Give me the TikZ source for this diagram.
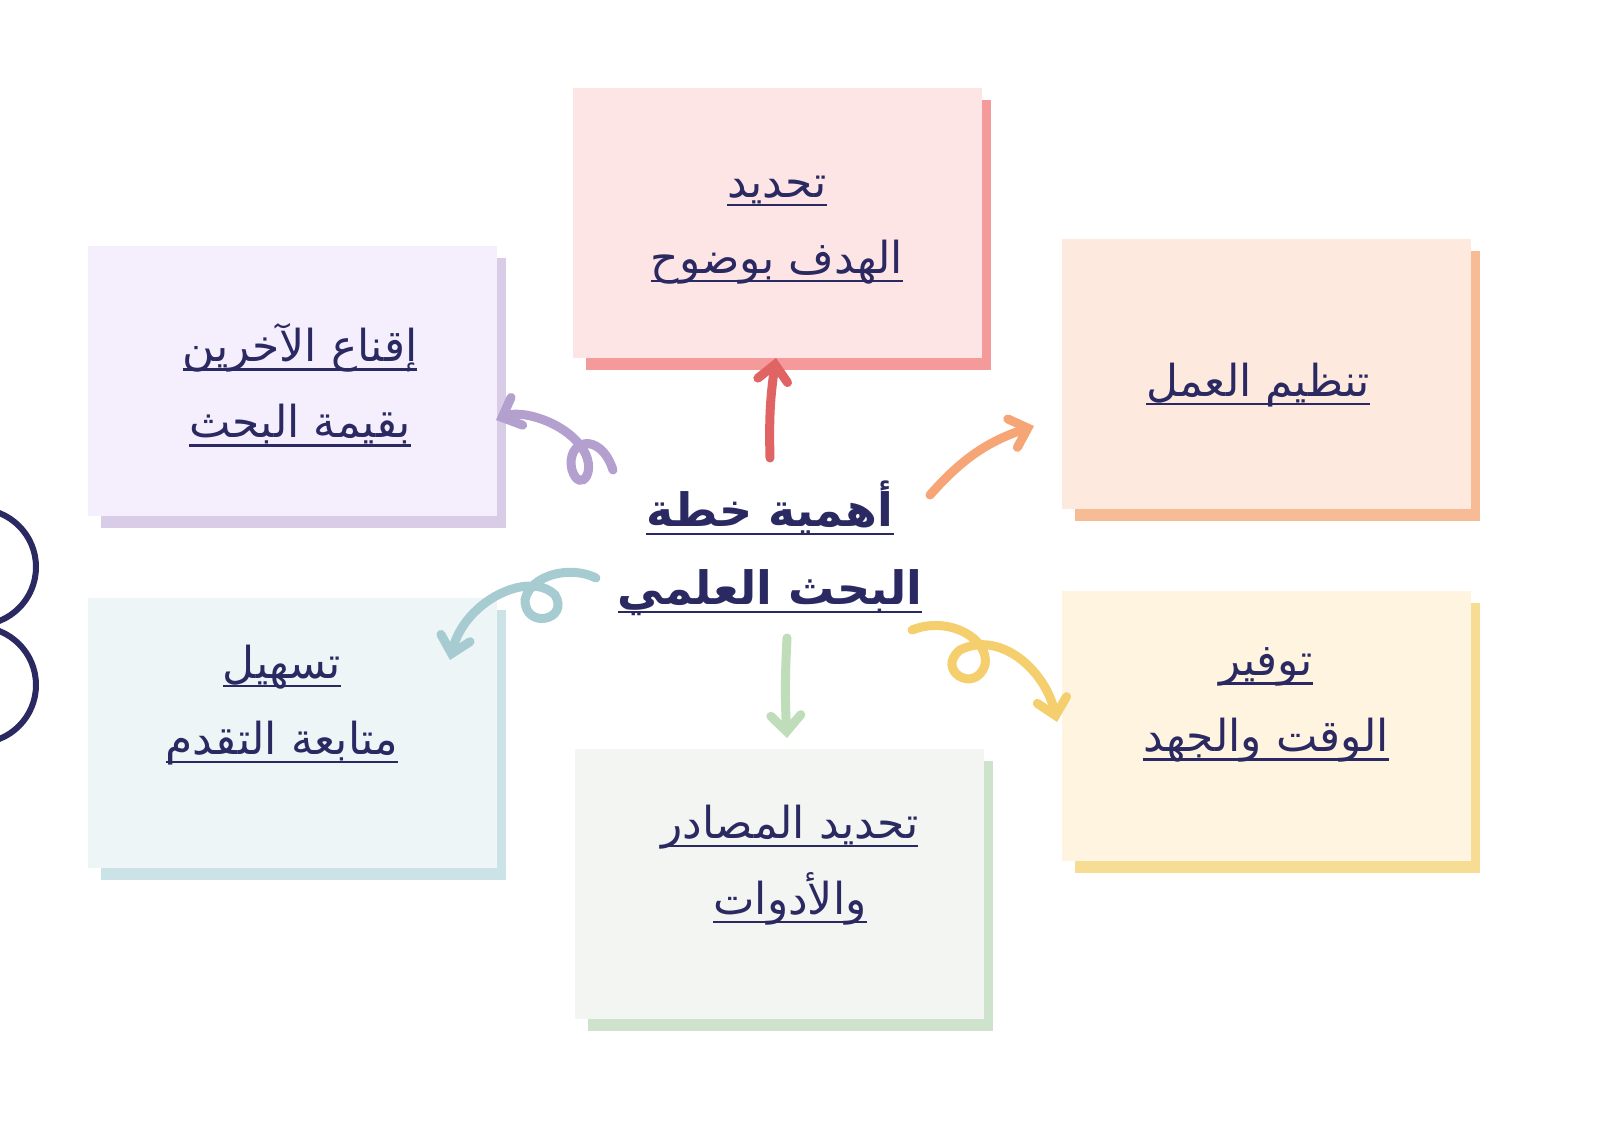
\documentclass[tikz,border=0pt]{standalone}
\usepackage{fontspec}
\usetikzlibrary{arrows.meta}
\TeXXeTstate=1
\newfontfamily\arabicfont[Script=Arabic]{DejaVu Sans}
\definecolor{inkNavy}{HTML}{2B2961}
\definecolor{pinkFill}{HTML}{FDE5E5}\definecolor{pinkShade}{HTML}{F59A9A}
\definecolor{lilacFill}{HTML}{F5EEFC}\definecolor{lilacShade}{HTML}{D9CCE6}
\definecolor{peachFill}{HTML}{FEE9DE}\definecolor{peachShade}{HTML}{F7BB95}
\definecolor{tealFill}{HTML}{EEF5F7}\definecolor{tealShade}{HTML}{CBE3E6}
\definecolor{sageFill}{HTML}{F2F5F1}\definecolor{sageShade}{HTML}{CDE3CC}
\definecolor{sandFill}{HTML}{FEF4DF}\definecolor{sandShade}{HTML}{F7DC93}
\definecolor{redArrow}{HTML}{E06464}\definecolor{orangeArrow}{HTML}{F6A676}
\definecolor{lilacArrow}{HTML}{B3A0CF}\definecolor{tealArrow}{HTML}{A6CCD2}
\definecolor{greenArrow}{HTML}{BFDDB8}\definecolor{yellowArrow}{HTML}{F5CF6E}
% underlined right-to-left line
\newcommand\ulr[1]{\setbox0\hbox{\arabicfont\beginR#1\endR}\leavevmode\rlap{\copy0}\rule[-9pt]{\wd0}{2.5pt}}
\begin{document}
\begin{tikzpicture}[x=1pt,y=-1pt,%%
  labelStyle/.style={text=inkNavy,align=center,font=\fontsize{44}{76}\selectfont},%%
  arrowStyle/.style={line width=9pt,line cap=round,-{Straight Barb[length=16pt,width=30pt,line cap=round]}}%%
]
\fill[white] (0,0) rectangle (1600,1131);
%%
%% Boxes: shade first, then face.
\foreach \x/\y/\c in {573/88/pink,88/246/lilac,1062/239/peach,88/598/teal,575/749/sage,1062/591/sand}{
  \fill[\c Shade] (\x+13,\y+12) rectangle (\x+418,\y+282);
  \fill[\c Fill] (\x,\y) rectangle (\x+409,\y+270);
}
%%
%% Labels.
\node[labelStyle] (goal) at (777,230) {\ulr{تحديد}\\\ulr{الهدف بوضوح}};
\node[labelStyle] (convince) at (300,385) {\ulr{إقناع الآخرين}\\\ulr{بقيمة البحث}};
\node[labelStyle] (organize) at (1258,385) {\ulr{تنظيم العمل}};
\node[labelStyle] (follow) at (282,705) {\ulr{تسهيل}\\\ulr{متابعة التقدم}};
\node[labelStyle] (sources) at (790,865) {\ulr{تحديد المصادر}\\\ulr{والأدوات}};
\node[labelStyle] (saving) at (1266,705) {\ulr{توفير}\\\ulr{الوقت والجهد}};
\node[labelStyle,font=\fontsize{46}{78}\bfseries] (plan) at (770,548) {\ulr{أهمية خطة}\\\ulr{البحث العلمي}};
%%
%% Arrow ends.
\coordinate (redStart) at (770,458);
\coordinate (redEnd) at (776,358);
\coordinate (orangeStart) at (930,495);
\coordinate (orangeEnd) at (1034,426);
\coordinate (lilacStart) at (613,470);
\coordinate (lilacEnd) at (496,420);
\coordinate (tealStart) at (596,578);
\coordinate (tealEnd) at (450,660);
\coordinate (greenStart) at (787,638);
\coordinate (greenEnd) at (787,738);
\coordinate (yellowStart) at (912,630);
\coordinate (yellowEnd) at (1057,722);
%%
\draw[arrowStyle,redArrow] (redStart) to[bend left=5] (redEnd);
\draw[arrowStyle,orangeArrow] (orangeStart) to[bend left=15] (orangeEnd);
\draw[arrowStyle,greenArrow] (greenStart) to[bend right=3] (greenEnd);
\draw[arrowStyle,lilacArrow] (lilacStart) .. controls (600,430) and (565,440) .. (572,470)
  .. controls (580,495) and (600,470) .. (580,445) .. controls (560,420) and (520,410) .. (lilacEnd);
\draw[arrowStyle,tealArrow] (tealStart) .. controls (570,565) and (530,575) .. (525,600)
  .. controls (525,630) and (570,620) .. (555,595) .. controls (530,570) and (465,600) .. (tealEnd);
\draw[arrowStyle,yellowArrow] (yellowStart) .. controls (950,615) and (990,640) .. (985,665)
  .. controls (975,695) and (935,670) .. (960,650) .. controls (1000,630) and (1045,670) .. (yellowEnd);
%%
%% Circles on the left edge.
\draw[inkNavy,line width=6pt] (-22,567) circle (58);
\draw[inkNavy,line width=6pt] (-22,685) circle (58);
%% Fix the frame.
\pgfresetboundingbox
\path[use as bounding box] (0,0) rectangle (1600,1131);
\end{tikzpicture}
\end{document}
